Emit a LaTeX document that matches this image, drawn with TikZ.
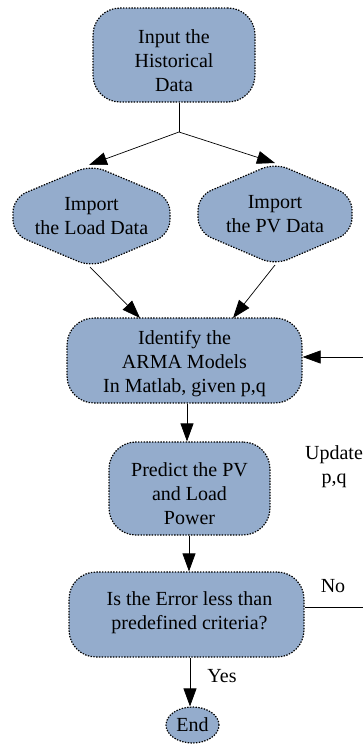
\documentclass[tikz,border=0pt]{standalone}
\usepackage{fontspec}
\setmainfont{Liberation Serif}
\usetikzlibrary{arrows.meta,shapes.geometric}
\definecolor{boxfill}{RGB}{148,172,204}
\begin{document}
\begin{tikzpicture}[x=1pt,y=-1pt,
  font=\fontsize{20}{24}\selectfont,
  dotline/.style={draw=black,line width=1.2pt,dash pattern=on 1.4pt off 1.4pt},
  rbox/.style={dotline,fill=boxfill,rounded corners=27pt,inner sep=0pt},
  hexa/.style={dotline,fill=boxfill,rounded corners=14pt},
  conn/.style={line width=0.7pt},
  arr/.style={conn,-{Triangle[length=18pt,width=13pt]}},
  lbl/.style={align=center,inner sep=0pt}]
\useasboundingbox (0,0) rectangle (363,745);
% boxes
\node[rbox,minimum width=162pt,minimum height=94pt] (b1) at (174,55) {};
\node[lbl] (t1) at (174,61) {Input the\\Historical\\Data};
% left hexagon
\path[hexa] (91.5,165) -- (13,198) -- (13,234) -- (91.5,267) -- (170,234) -- (170,198) -- cycle;
\node[lbl] (b2) at (91.5,216) {Import\\the Load Data};
\coordinate (b2t) at (89,165);
\coordinate (b2b) at (90,267);
% right hexagon
\path[hexa] (275,163) -- (198,196) -- (198,232) -- (275,265) -- (352,232) -- (352,196) -- cycle;
\node[lbl] (b3) at (275,214) {Import\\the PV Data};
\coordinate (b3t) at (275,163);
\coordinate (b3b) at (275,265);
\node[rbox,minimum width=235pt,minimum height=85pt] (b4) at (184.5,360.5) {};
\node[lbl] (t4) at (184.5,364) {Identify the\\ARMA Models\\In Matlab, given p,q};
\node[rbox,minimum width=161pt,minimum height=93pt] (b5) at (189.5,488.5) {};
\node[lbl] (t5) at (189.5,494) {Predict the PV\\and Load\\Power};
\node[rbox,minimum width=235pt,minimum height=85pt] (b6) at (186.5,614.5) {};
\node[lbl] (t6) at (189.5,612.5) {Is the Error less than\\predefined criteria?};
\node[dotline,fill=boxfill,ellipse,minimum width=53pt,minimum height=36pt,inner sep=0pt] (end) at (192.5,725) {End};
% labels
\node[lbl] (upd) at (334,467) {Update\\p,q};
\node[lbl] (no) at (333,586) {No};
\node[lbl] (yes) at (222,676) {Yes};
% connectors
\coordinate (split) at (179,132);
\draw[conn] (b1.south -| split) -- (split);
\draw[arr] (split) -- (b2t);
\draw[arr] (split) -- (b3t);
\coordinate (t4a) at (140,318);
\coordinate (t4b) at (233,318);
\draw[arr] (b2b) -- (t4a);
\draw[arr] (b3b) -- (t4b);
\coordinate (x45) at (187,0);
\draw[arr] (b4.south -| x45) -- (b5.north -| x45);
\coordinate (x56) at (189,0);
\draw[arr] (b5.south -| x56) -- (b6.north -| x56);
\coordinate (x6e) at (190,0);
\draw[arr] (b6.south -| x6e) -- (end.north -| x6e);
\coordinate (fbA) at (363,607);
\coordinate (fbB) at (363,357);
\draw[conn] (b6.east |- fbA) -- (fbA);
\draw[arr] (fbB) -- (b4.east |- fbB);
\end{tikzpicture}
\end{document}
